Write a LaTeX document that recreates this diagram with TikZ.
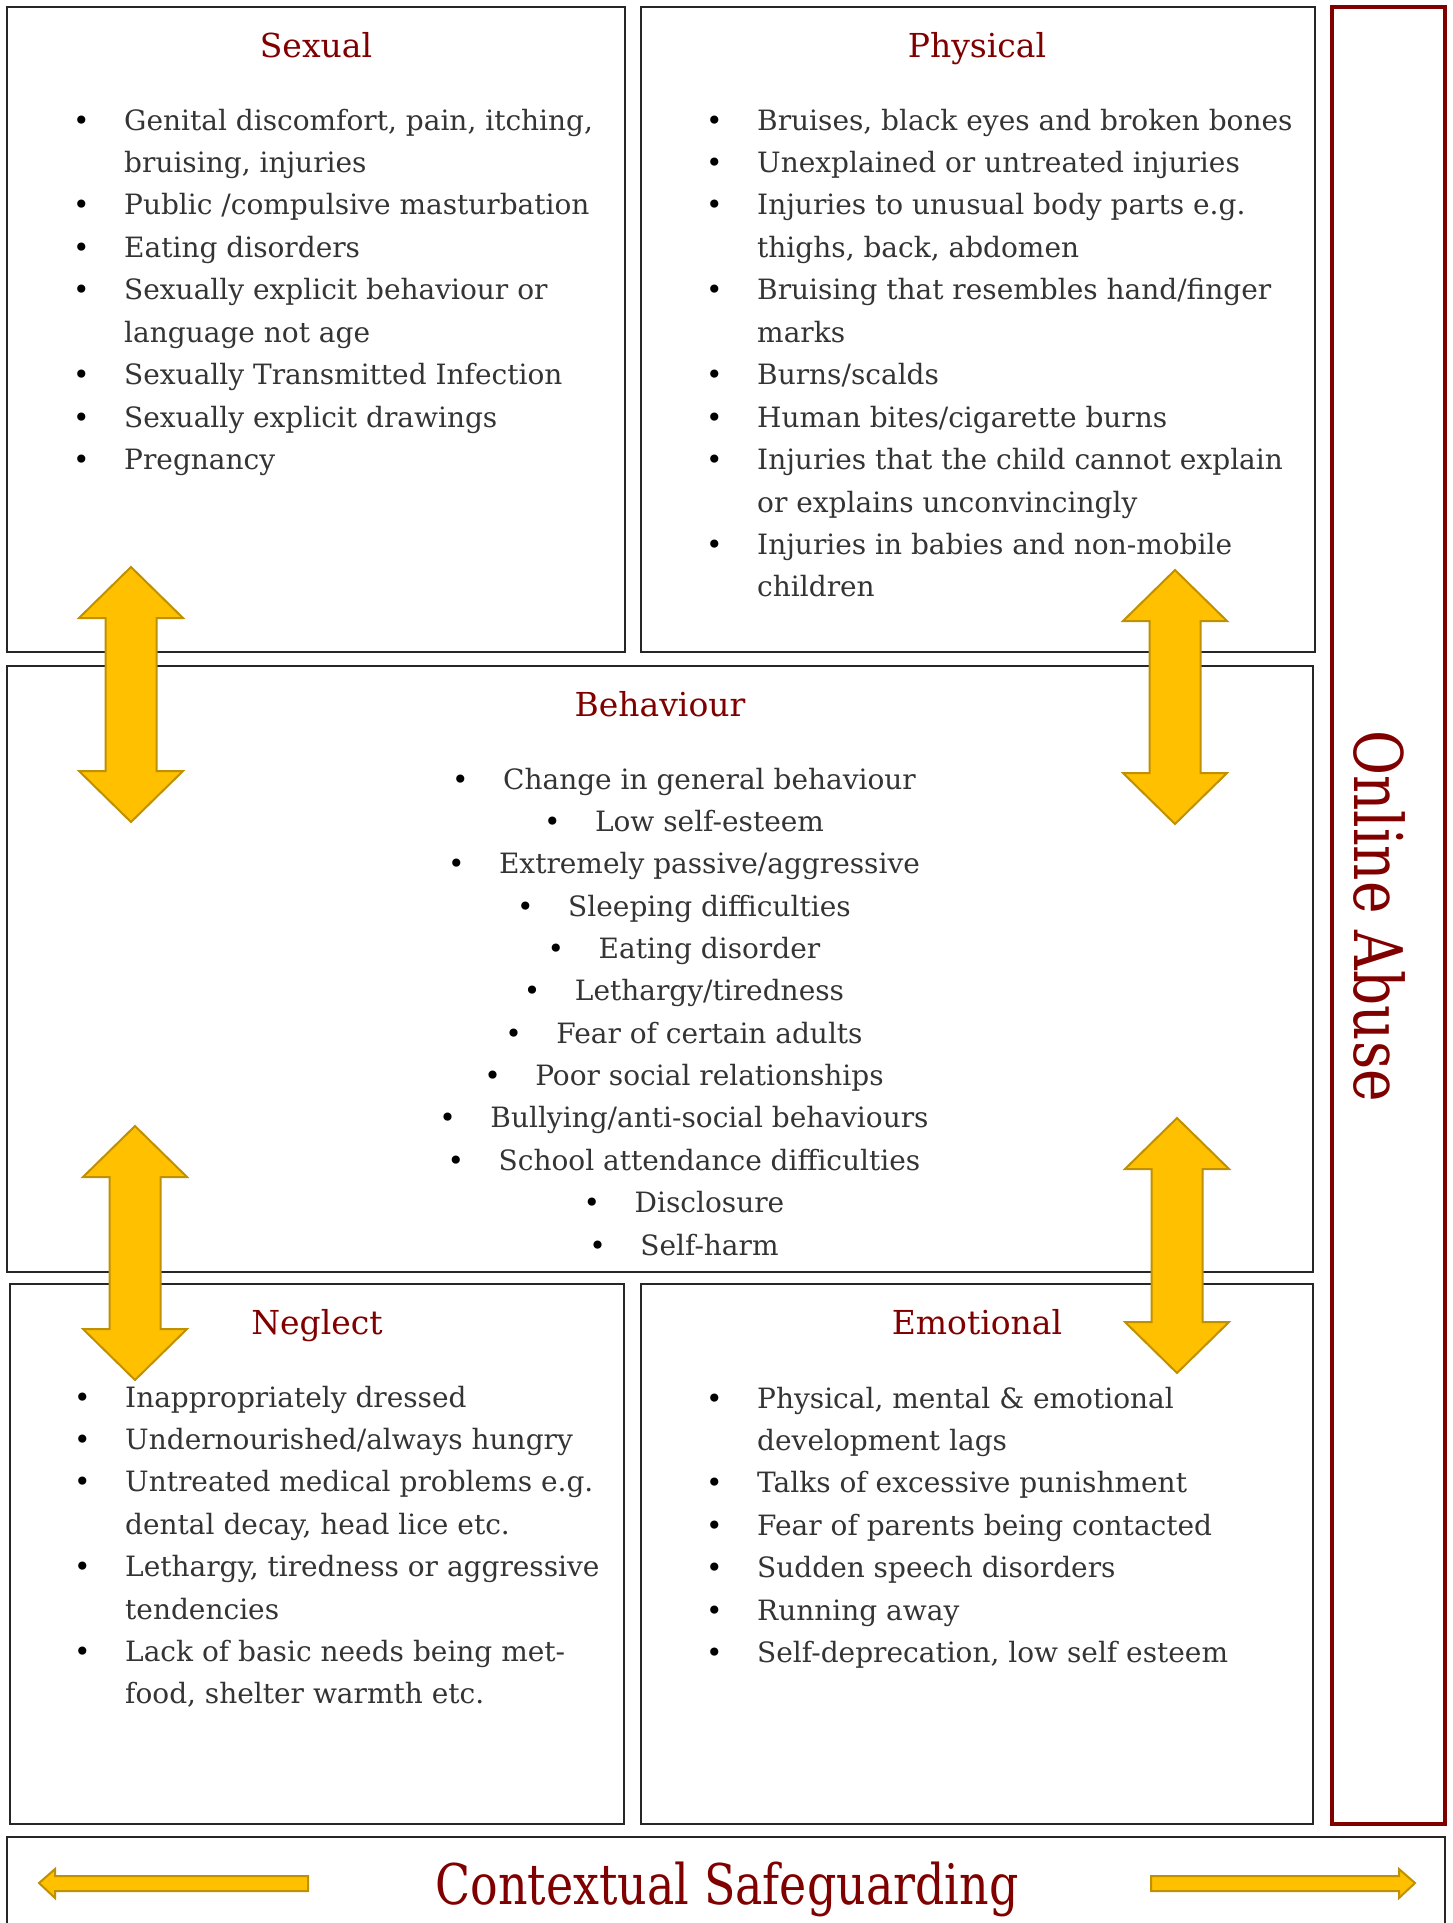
\documentclass[tikz,border=0pt]{standalone}
\usepackage{fontspec}
\setmainfont{DejaVu Serif}
\newfontfamily\headfont[FakeStretch=0.82]{DejaVu Serif}

\definecolor{titlered}{RGB}{128,0,0}
\definecolor{bodygray}{RGB}{52,52,52}
\definecolor{arrowgold}{RGB}{255,192,0}
\definecolor{arrowedge}{RGB}{191,144,0}

\newlength{\bulgap}\setlength{\bulgap}{51pt}
\newcommand{\bul}{\makebox[\bulgap][l]{\textcolor{black}{\textbullet}}}
\newcommand{\ind}{\hspace*{\bulgap}}

% double arrow: centre x, top tip y, bottom tip y
\newcommand{\vgoldarrow}[3]{%
  \draw[goldarrow] (#1,#2) -- (#1+52,#2+51) -- (#1+25.5,#2+51) -- (#1+25.5,#3-51)
    -- (#1+52,#3-51) -- (#1,#3) -- (#1-52,#3-51) -- (#1-25.5,#3-51)
    -- (#1-25.5,#2+51) -- (#1-52,#2+51) -- cycle;}

\begin{document}
\begin{tikzpicture}[x=1pt, y=-1pt,
    panel/.style={draw=black!85, line width=1.3pt, inner sep=0pt, outer sep=0pt, anchor=north west},
    panel title/.style={text=titlered, font=\fontsize{33}{40}\selectfont, anchor=base, inner sep=0pt},
    list line/.style={text=bodygray, font=\fontsize{28}{34}\selectfont, anchor=base west, inner sep=0pt},
    goldarrow/.style={fill=arrowgold, draw=arrowedge, line width=2pt, line join=miter}]

    \useasboundingbox (0,0) rectangle (1452,1923);
    \clip (0,0) rectangle (1452,1923);

    % ================================================================================================
    % 框
    % ================================================================================================
    \node [panel, minimum width=618pt, minimum height=645pt] (sexual) at (7,7) {};
    \node [panel, minimum width=674pt, minimum height=645pt] (physical) at (641,7) {};
    \node [panel, minimum width=1306pt, minimum height=606pt] (behaviour) at (7,666) {};
    \node [panel, minimum width=614pt, minimum height=540pt] (neglect) at (10,1284) {};
    \node [panel, minimum width=672pt, minimum height=540pt] (emotional) at (641,1284) {};
    \node [panel, draw=titlered, line width=3.5pt, minimum width=113pt, minimum height=1817pt] (online) at (1332,7) {};
    \node [panel, minimum width=1438pt, minimum height=140pt] (context) at (7,1837) {};

    % ================================================================================================
    % 标题
    % ================================================================================================
    \node [panel title] (sexual-title) at (316,57) {Sexual};
    \node [panel title] (physical-title) at (977,57) {Physical};
    \node [panel title] (behaviour-title) at (660,716) {Behaviour};
    \node [panel title] (neglect-title) at (317,1334) {Neglect};
    \node [panel title] (emotional-title) at (977,1334) {Emotional};

    \node [rotate=-90, text=titlered, inner sep=0pt, font=\headfont\fontsize{67}{70}\selectfont]
      (online-title) at (1379,916) {Online Abuse};
    \node [anchor=base, text=titlered, inner sep=0pt, font=\headfont\fontsize{56}{60}\selectfont]
      (context-title) at (727,1904) {Contextual Safeguarding};

    % ================================================================================================
    % 列表
    % ================================================================================================
    \foreach \t [count=\i] in {{\bul Genital discomfort, pain, itching,}, {\ind bruising, injuries},
        {\bul Public /compulsive masturbation}, {\bul Eating disorders},
        {\bul Sexually explicit behaviour or}, {\ind language not age},
        {\bul Sexually Transmitted Infection}, {\bul Sexually explicit drawings}, {\bul Pregnancy}}
    \node [list line] (sexual-\i) at (73,{130+42.45*(\i-1)}) {\t};

    \foreach \t [count=\i] in {{\bul Bruises, black eyes and broken bones},
        {\bul Unexplained or untreated injuries},
        {\bul Injuries to unusual body parts e.g.}, {\ind thighs, back, abdomen},
        {\bul Bruising that resembles hand/finger}, {\ind marks},
        {\bul Burns/scalds}, {\bul Human bites/cigarette burns},
        {\bul Injuries that the child cannot explain}, {\ind or explains unconvincingly},
        {\bul Injuries in babies and non-mobile}, {\ind children}}
    \node [list line] (physical-\i) at (706,{130+42.45*(\i-1)}) {\t};

    \foreach \t [count=\i] in {Change in general behaviour, Low self-esteem,
        Extremely passive/aggressive, Sleeping difficulties, Eating disorder,
        Lethargy/tiredness, Fear of certain adults, Poor social relationships,
        Bullying/anti-social behaviours, School attendance difficulties,
        Disclosure, Self-harm}
    \node [list line, anchor=base] (behaviour-\i) at (684,{789+42.37*(\i-1)}) {\bul\t};

    \foreach \t [count=\i] in {{\bul Inappropriately dressed}, {\bul Undernourished/always hungry},
        {\bul Untreated medical problems e.g.}, {\ind dental decay, head lice etc.},
        {\bul Lethargy, tiredness or aggressive}, {\ind tendencies},
        {\bul Lack of basic needs being met-}, {\ind food, shelter warmth etc.}}
    \node [list line] (neglect-\i) at (74,{1407+42.4*(\i-1)}) {\t};

    \foreach \t [count=\i] in {{\bul Physical, mental \& emotional}, {\ind development lags},
        {\bul Talks of excessive punishment}, {\bul Fear of parents being contacted},
        {\bul Sudden speech disorders}, {\bul Running away},
        {\bul Self-deprecation, low self esteem}}
    \node [list line] (emotional-\i) at (706,{1408+42.4*(\i-1)}) {\t};

    % ================================================================================================
    % 箭头
    % ================================================================================================
    \vgoldarrow{131}{567}{822}
    \vgoldarrow{1175}{570}{824}
    \vgoldarrow{135}{1126}{1380}
    \vgoldarrow{1177}{1118}{1373}

    \draw [goldarrow] (39,1883) -- (55,1869) -- (55,1876) -- (308,1876) -- (308,1891)
      -- (55,1891) -- (55,1898) -- cycle;
    \draw [goldarrow] (1415,1883) -- (1399,1869) -- (1399,1876) -- (1151,1876) -- (1151,1891)
      -- (1399,1891) -- (1399,1898) -- cycle;

\end{tikzpicture}
\end{document}
